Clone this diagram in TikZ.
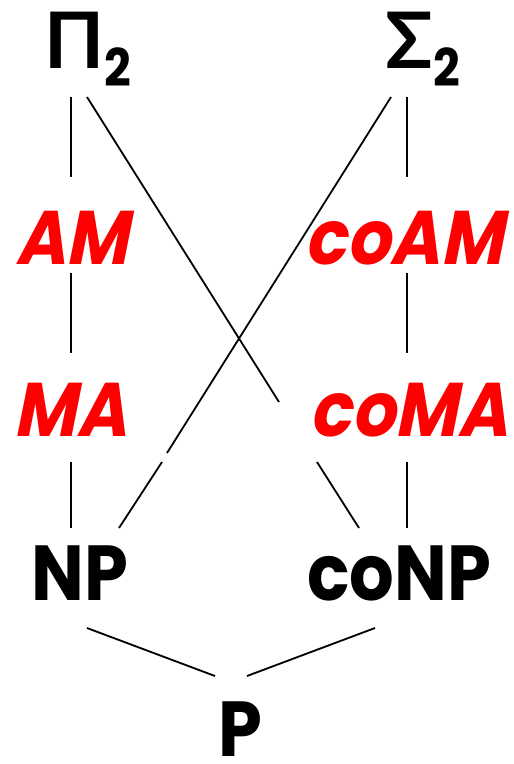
\documentclass[tikz,border=0pt]{standalone}
\usepackage{fontspec}
\newfontfamily\cs{Poppins}[FakeStretch=0.9]
\newfontfamily\csi{Poppins}[FakeStretch=0.9, FakeSlant=0.2]
\newfontfamily\gk{Lato}
\newcommand{\subtwo}{\raisebox{-18pt}{\fontsize{52}{52}\selectfont 2}}
\tikzset{
  lbl/.style={anchor=base, inner sep=0pt, font=\cs\bfseries\fontsize{78}{78}\selectfont},
  redlbl/.style={anchor=base, inner sep=0pt, text=red, font=\csi\bfseries\fontsize{76}{76}\selectfont},
  edge/.style={line width=1.8pt, black}
}
\begin{document}
\begin{tikzpicture}[x=1pt,y=-1pt]
\useasboundingbox (0,0) rectangle (514,764);
% nodes
\node[lbl] (pi) at (88,68) {{\gk\bfseries Π}\subtwo};
\node[lbl] (sigma) at (423,68) {{\gk\bfseries Σ}\subtwo};
\node[redlbl] (am) at (72,264) {AM};
\node[redlbl] (coam) at (404,264) {coAM};
\node[redlbl] (ma) at (70,436) {MA};
\node[redlbl] (coma) at (409,436) {coMA};
\node[lbl] (np) at (80,600) {NP};
\node[lbl] (conp) at (399,600) {coNP};
\node[lbl] (p) at (240,756) {P};
% connector end points
\coordinate (piS) at (71,97);
\coordinate (amN) at (71,177);
\coordinate (amS) at (71,273);
\coordinate (maN) at (71,353);
\coordinate (maS) at (71,462);
\coordinate (npN) at (71,528);
\coordinate (sigS) at (407,97);
\coordinate (coamN) at (407,177);
\coordinate (coamS) at (407,273);
\coordinate (comaN) at (407,353);
\coordinate (comaS) at (407,462);
\coordinate (conpN) at (407,528);
\coordinate (piD) at (87,97);
\coordinate (piGapA) at (279,402);
\coordinate (piGapB) at (317,462);
\coordinate (conpD) at (359,528);
\coordinate (sigD) at (391,97);
\coordinate (sigGapA) at (167,453);
\coordinate (sigGapB) at (162,462);
\coordinate (npD) at (119,528);
\coordinate (npP) at (87,628);
\coordinate (pL) at (215,676);
\coordinate (conpP) at (375,628);
\coordinate (pR) at (247,676);
% connectors
\draw[edge] (piS) -- (amN);
\draw[edge] (amS) -- (maN);
\draw[edge] (maS) -- (npN);
\draw[edge] (sigS) -- (coamN);
\draw[edge] (coamS) -- (comaN);
\draw[edge] (comaS) -- (conpN);
\draw[edge] (piD) -- (piGapA);
\draw[edge] (piGapB) -- (conpD);
\draw[edge] (sigD) -- (sigGapA);
\draw[edge] (sigGapB) -- (npD);
\draw[edge] (npP) -- (pL);
\draw[edge] (conpP) -- (pR);
\end{tikzpicture}
\end{document}
